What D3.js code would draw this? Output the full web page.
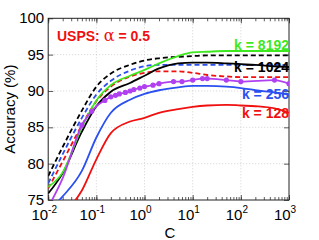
<!DOCTYPE html>
<html><head><meta charset="utf-8">
<script src="https://cdn.jsdelivr.net/npm/d3@7"></script>
<style>body{margin:0;background:#fff}svg{display:block}text{font-family:"Liberation Sans",Arial,sans-serif}</style>
</head><body>
<script>
const C = [0.01,0.02,0.05,0.1,0.2,0.5,1,2,5,10,20,50,100,200,500,1000];
const k8192 = [76.8,78.8,85.0,88.7,90.8,92.1,92.9,93.8,94.8,95.3,95.4,95.5,95.5,95.5,95.5,95.5];
const k1024 = [75.9,78.7,84.4,87.9,89.9,91.1,92.1,93.1,93.8,93.9,93.9,93.8,93.7,93.6,93.4,93.3];
const k256  = [73.5,75.5,79.0,83.6,87.0,88.8,89.6,90.1,90.5,90.7,90.7,90.6,90.4,90.1,89.8,89.5];
const k128  = [71.0,73.0,76.3,80.6,84.2,85.8,86.3,87.0,87.5,87.8,88.0,88.1,88.0,87.9,87.6,87.0];
const dashBlack = [78.3,82.3,87.3,90.6,92.4,93.6,94.2,94.5,94.7,94.8,94.9,94.9,94.9,94.9,94.9,94.9];
const dashBlue  = [77.3,81.3,86.3,89.5,91.4,92.8,93.4,93.6,93.6,93.6,93.6,93.6,93.6,93.6,93.6,93.6];
const dashRed   = [76.6,80.3,85.3,88.6,90.6,92.0,92.5,92.7,92.7,92.5,92.2,92.0,91.9,91.9,91.9,91.9];
const purpleC = [0.01,0.02,0.05,0.08,0.1,0.15,0.2,0.25,0.3,0.4,0.5,0.6,0.8,1,1.5,2,4,6,10,16,20,50,100,500,1000];
const purpleV = [74.0,78.0,85.3,87.2,87.9,88.7,89.2,89.4,89.6,89.8,90.0,90.2,90.4,90.6,90.8,91.0,91.3,91.3,91.5,91.7,91.7,91.5,91.3,91.5,91.0];
const purpleMarked = [0.05,0.08,0.15,0.2,0.25,0.3,0.4,0.5,0.6,0.8,1,1.5,2,4,6,10,16,20,50,100,500,1000];
const yTicks = [75,80,85,90,95,100];
const xTicks = [0.01,0.1,1,10,100,1000];
const xTickExp = ["-2","-1","0","1","2","3"];
const labels = [
  {t:"k = 8192", v:95.5, c:"#3ee81e", dy:-1},
  {t:"k = 1024", v:93.3, c:"#000", dy:5},
  {t:"k = 256", v:89.5, c:"#2b50f0", dy:4},
  {t:"k = 128", v:87.0, c:"#f01010", dy:5.5}
];

const W=319,H=240, L=48.2, R=289, T=18.3, B=200;
const svg = d3.select("body").append("svg").attr("width",W).attr("height",H);
const x = d3.scaleLog().domain([0.01,1000]).range([L,R]);
const y = d3.scaleLinear().domain([75,100]).range([B,T]);

svg.append("clipPath").attr("id","clip").append("rect").attr("x",L).attr("y",T).attr("width",R-L).attr("height",B-T);

// grid
const g = svg.append("g").attr("stroke","#c8c8c8").attr("stroke-width",0.8).attr("stroke-dasharray","1,2");
xTicks.slice(1,-1).forEach(t=>g.append("line").attr("x1",x(t)).attr("x2",x(t)).attr("y1",T).attr("y2",B));
yTicks.slice(1,-1).forEach(t=>g.append("line").attr("x1",L).attr("x2",R).attr("y1",y(t)).attr("y2",y(t)));

// axes
const axB = svg.append("g").attr("transform",`translate(0,${B})`).call(d3.axisTop(x).tickValues(x.ticks()).tickSize(3).tickFormat(""));
const axT = svg.append("g").attr("transform",`translate(0,${T})`).call(d3.axisBottom(x).tickValues(x.ticks()).tickSize(3).tickFormat(""));
[axB,axT].forEach(a=>{a.select(".domain").remove(); a.selectAll(".tick line").attr("stroke","#333").attr("stroke-width",0.8);});
const axBM = svg.append("g").attr("transform",`translate(0,${B})`).call(d3.axisTop(x).tickValues(xTicks).tickSize(5).tickFormat(""));
const axTM = svg.append("g").attr("transform",`translate(0,${T})`).call(d3.axisBottom(x).tickValues(xTicks).tickSize(5).tickFormat(""));
const axL = svg.append("g").attr("transform",`translate(${L},0)`).call(d3.axisRight(y).tickValues(yTicks).tickSize(5).tickFormat(""));
const axR = svg.append("g").attr("transform",`translate(${R},0)`).call(d3.axisLeft(y).tickValues(yTicks).tickSize(5).tickFormat(""));
[axBM,axTM,axL,axR].forEach(a=>{a.select(".domain").remove(); a.selectAll(".tick line").attr("stroke","#333").attr("stroke-width",0.8);});

svg.append("rect").attr("x",L).attr("y",T).attr("width",R-L).attr("height",B-T).attr("fill","none").attr("stroke","#222").attr("stroke-width",1);

// tick labels
yTicks.forEach(t=>svg.append("text").attr("x",L-4).attr("y",y(t)+5).attr("text-anchor","end").attr("font-size",15).attr("fill","#000").text(t));
xTicks.forEach((t,i)=>{
  const tx = svg.append("text").attr("x",x(t)-4).attr("y",220).attr("text-anchor","middle").attr("font-size",15).attr("fill","#000");
  tx.append("tspan").text("10");
  tx.append("tspan").attr("dy",-7).attr("font-size",10).text(xTickExp[i]);
});
svg.append("text").attr("x",170).attr("y",238).attr("text-anchor","middle").attr("font-size",15).text("C");
svg.append("text").attr("transform",`translate(15,${(T+B)/2}) rotate(-90)`).attr("text-anchor","middle").attr("font-size",15).text("Accuracy (%)");

// lines
const line = d3.line().x(d=>x(d[0])).y(d=>y(d[1])).curve(d3.curveMonotoneX);
const plot = svg.append("g").attr("clip-path","url(#clip)");
const series = [
  {v:dashBlack,c:"#000",dash:"5,3"},
  {v:dashBlue,c:"#2b50f0",dash:"5,3"},
  {v:dashRed,c:"#f01010",dash:"5,3"},
  {v:k128,c:"#f01010"},
  {v:k256,c:"#2b50f0"},
  {v:k1024,c:"#000"},
  {v:k8192,c:"#3ee81e"}
];
series.forEach(s=>{
  plot.append("path").datum(C.map((c,i)=>[c,s.v[i]])).attr("d",line).attr("fill","none")
    .attr("stroke",s.c).attr("stroke-width",1.8).attr("stroke-dasharray",s.dash||null);
});
const pdata = purpleC.map((c,i)=>[c,purpleV[i]]);
plot.append("path").datum(pdata).attr("d",line).attr("fill","none").attr("stroke","#b040f0").attr("stroke-width",1.8);
plot.selectAll("circle.p").data(pdata.filter(d=>purpleMarked.includes(d[0]))).enter().append("circle")
  .attr("cx",d=>x(d[0])).attr("cy",d=>y(d[1])).attr("r",2.6).attr("fill","#b040f0");
// labels
labels.forEach(l=>svg.append("text").attr("x",R).attr("y",y(l.v)+l.dy).attr("text-anchor","end")
  .attr("font-size",14).attr("font-weight","bold").attr("fill",l.c).text(l.t));
const title = svg.append("text").attr("x",57).attr("y",41).attr("font-size",14).attr("font-weight","bold").attr("fill","#f01010");
title.append("tspan").text("USPS: ");
title.append("tspan").attr("font-weight","normal").attr("font-family","'DejaVu Serif',serif").attr("font-size",16).text("α");
title.append("tspan").text(" = 0.5");
</script>
</body></html>
